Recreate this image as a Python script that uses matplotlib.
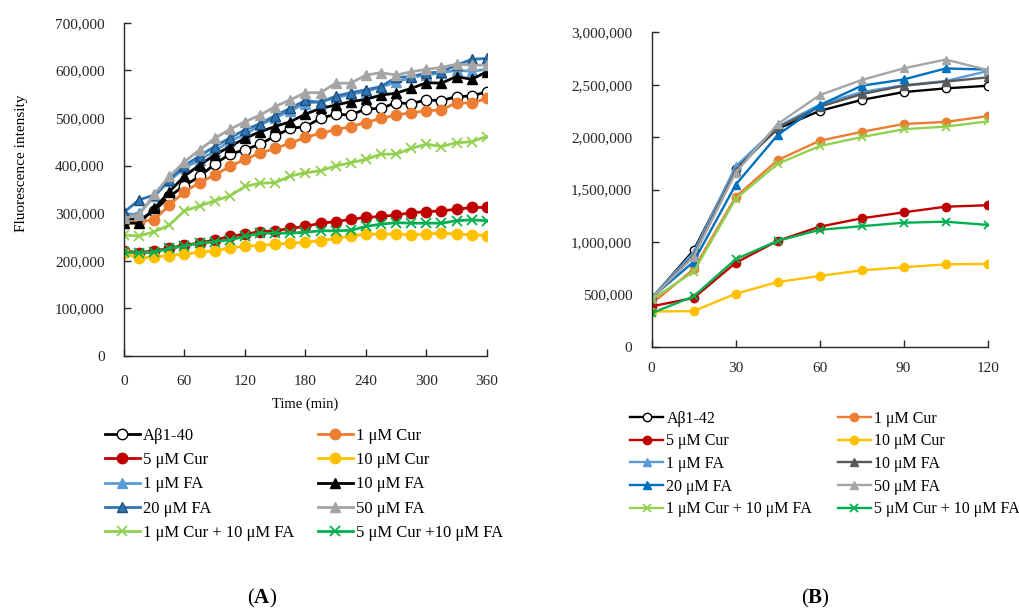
import matplotlib.pyplot as plt
from matplotlib.ticker import FuncFormatter, MultipleLocator

plt.rcParams['font.family'] = ['Liberation Serif', 'DejaVu Serif']
plt.rcParams['mathtext.fontset'] = 'custom'
plt.rcParams['mathtext.rm'] = 'Liberation Serif'
plt.rcParams['mathtext.bf'] = 'Liberation Serif:bold'

# ---- panel A : Abeta1-40, values in thousands
time_a = list(range(0, 361, 15))
labels_a = ["Aβ1-40", "1 μM Cur", "5 μM Cur", "10 μM Cur", "1 μM FA", "10 μM FA",
            "20 μM FA", "50 μM FA", "1 μM Cur + 10 μM FA", "5 μM Cur +10 μM FA"]
ab40 = [290, 285, 305, 335, 358, 377, 403, 424, 433, 445, 462, 478, 482,
        499, 508, 506, 519, 520, 532, 530, 538, 536, 545, 546, 555]
cur1_a = [282, 282, 286, 317, 345, 364, 380, 398, 413, 426, 436, 447, 459,
          468, 475, 482, 490, 499, 506, 511, 515, 517, 532, 531, 541]
cur5_a = [221, 217, 221, 226, 233, 237, 244, 251, 256, 261, 263, 268, 272,
          279, 282, 287, 291, 293, 296, 301, 303, 305, 308, 312, 312]
cur10_a = [216, 205, 208, 211, 214, 218, 221, 227, 231, 232, 235, 237, 239,
           242, 247, 252, 256, 256, 256, 255, 256, 258, 256, 255, 253]
fa1_a = [295, 300, 335, 368, 395, 412, 430, 452, 465, 485, 500, 515, 530,
         535, 542, 550, 555, 565, 575, 585, 590, 595, 600, 598, 602]
fa10_a = [279, 279, 310, 345, 378, 401, 422, 440, 457, 471, 482, 492, 508,
          520, 527, 534, 539, 548, 552, 562, 574, 573, 587, 581, 597]
fa20_a = [302, 328, 338, 370, 400, 420, 440, 458, 475, 488, 505, 520, 537,
          532, 546, 553, 559, 566, 585, 587, 594, 597, 611, 623, 625]
fa50_a = [289, 296, 340, 377, 408, 433, 457, 476, 492, 506, 524, 538, 553,
          553, 573, 573, 590, 595, 590, 597, 602, 606, 613, 611, 611]
cur1fa_a = [254, 252, 261, 275, 305, 315, 326, 336, 356, 363, 364, 378, 385,
            389, 399, 406, 413, 424, 424, 436, 445, 440, 448, 450, 461]
cur5fa_a = [218, 217, 218, 226, 231, 237, 240, 244, 251, 258, 258, 258, 260,
            263, 263, 264, 272, 277, 280, 279, 279, 279, 284, 286, 284]

# ---- panel B : Abeta1-42, values in thousands
time_b = [0, 15, 30, 45, 60, 75, 90, 105, 120]
labels_b = ["Aβ1-42", "1 μM Cur", "5 μM Cur", "10 μM Cur", "1 μM FA", "10 μM FA",
            "20 μM FA", "50 μM FA", "1 μM Cur + 10 μM FA", "5 μM Cur + 10 μM FA"]
ab42 = [460, 920, 1700, 2080, 2250, 2355, 2430, 2465, 2490]
cur1_b = [410, 740, 1430, 1780, 1965, 2050, 2125, 2145, 2200]
cur5_b = [385, 465, 800, 1010, 1145, 1225, 1282, 1336, 1350]
cur10_b = [335, 340, 505, 617, 675, 729, 758, 786, 790]
fa1_b = [470, 900, 1720, 2100, 2310, 2430, 2495, 2535, 2630]
fa10_b = [465, 870, 1680, 2090, 2290, 2410, 2490, 2530, 2570]
fa20_b = [470, 810, 1545, 2020, 2305, 2490, 2550, 2655, 2645]
fa50_b = [465, 860, 1660, 2125, 2400, 2545, 2656, 2740, 2640]
cur1fa_b = [450, 715, 1410, 1745, 1915, 2000, 2075, 2100, 2150]
cur5fa_b = [320, 480, 835, 1010, 1115, 1150, 1183, 1193, 1162]

data_a = [ab40, cur1_a, cur5_a, cur10_a, fa1_a, fa10_a, fa20_a, fa50_a, cur1fa_a, cur5fa_a]
data_b = [ab42, cur1_b, cur5_b, cur10_b, fa1_b, fa10_b, fa20_b, fa50_b, cur1fa_b, cur5fa_b]

# (line colour, marker, face colour, edge colour)
styles_a = [("black", "o", "white", "black"),
            ("#ED7D31", "o", "#ED7D31", "#ED7D31"),
            ("#C00000", "o", "#C00000", "#C00000"),
            ("#FFC000", "o", "#FFC000", "#FFC000"),
            ("#5B9BD5", "^", "#5B9BD5", "#5B9BD5"),
            ("black", "^", "black", "black"),
            ("#2E75B6", "^", "#2E75B6", "#1F4E79"),
            ("#A5A5A5", "^", "#A5A5A5", "#A5A5A5"),
            ("#92D050", "x", "#92D050", "#92D050"),
            ("#00B050", "x", "#00B050", "#00B050")]
styles_b = list(styles_a)
styles_b[5] = ("#595959", "^", "#595959", "#595959")
styles_b[6] = ("#0070C0", "^", "#0070C0", "#0070C0")

fig = plt.figure(figsize=(10.19, 6.12), dpi=100)
axA = fig.add_axes([0.1217, 0.4183, 0.356, 0.5446])
axB = fig.add_axes([0.6395, 0.4335, 0.3297, 0.5137])


def draw(ax, x, data, styles, ms, lw):
    lines = []
    for ys, (c, m, fc, ec) in zip(data, styles):
        mew = 1.3 if m == "x" else 1.0
        ln, = ax.plot(x, ys, color=c, lw=lw, marker=m, ms=ms, mfc=fc, mec=ec, mew=mew)
        lines.append(ln)
    return lines


lines_a = draw(axA, time_a, data_a, styles_a, 7.5, 2.0)
lines_b = draw(axB, time_b, data_b, styles_b, 6, 1.7)

fmt = FuncFormatter(lambda v, p: f"{v * 1000:,.0f}")
for ax in (axA, axB):
    ax.spines[["top", "right"]].set_visible(False)
    for s in ("left", "bottom"):
        ax.spines[s].set_color("#262626")
        ax.spines[s].set_linewidth(1.0)
    ax.yaxis.set_major_formatter(fmt)
    ax.tick_params(direction="in", length=5, width=1.0, colors="#262626",
                   labelsize=11, labelcolor="#262626")
    ax.tick_params(axis="y", pad=14)
axA.tick_params(axis="x", pad=14)
axB.tick_params(axis="x", pad=11)

axA.set_xlim(0, 360)
axA.set_ylim(0, 700)
axA.xaxis.set_major_locator(MultipleLocator(60))
axA.yaxis.set_major_locator(MultipleLocator(100))
axA.set_xlabel("Time (min)", fontsize=10.5)
axA.xaxis.set_label_coords(0.5, -0.125)
axA.set_ylabel("Fluorescence intensity", fontsize=11)
axA.yaxis.set_label_coords(-0.265, 0.578)

axB.set_xlim(0, 120)
axB.set_ylim(0, 3000)
axB.xaxis.set_major_locator(MultipleLocator(30))
axB.yaxis.set_major_locator(MultipleLocator(500))


def add_legend(handles, labels, x, y, fs, sp):
    fig.legend(handles, labels, loc="upper left", bbox_to_anchor=(x, y), frameon=False,
               fontsize=fs, handlelength=2.1, handletextpad=0.2, labelspacing=sp,
               borderpad=0, borderaxespad=0)


add_legend(lines_a[0::2], labels_a[0::2], 0.103, 0.301, 12, 0.5)
add_legend(lines_a[1::2], labels_a[1::2], 0.312, 0.301, 12, 0.5)
add_legend(lines_b[0::2], labels_b[0::2], 0.618, 0.329, 11.5, 0.42)
add_legend(lines_b[1::2], labels_b[1::2], 0.822, 0.329, 11.5, 0.42)

fig.text(262 / 1019, 1 - 598 / 612, r"($\mathbf{A}$)", ha="center", va="center", fontsize=15)
fig.text(815 / 1019, 1 - 598 / 612, r"($\mathbf{B}$)", ha="center", va="center", fontsize=15)

fig.savefig("out.png", dpi=100)
